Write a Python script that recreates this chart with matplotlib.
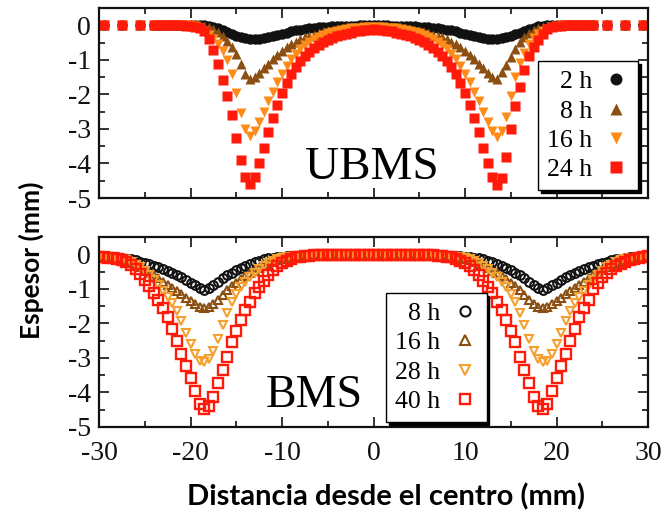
import matplotlib
matplotlib.use("Agg")
import matplotlib.pyplot as plt
from matplotlib.ticker import MultipleLocator
from matplotlib.font_manager import FontProperties

plt.rcParams['font.family'] = ['Liberation Serif', 'DejaVu Serif']
plt.rcParams['axes.unicode_minus'] = False

# ---------------- UBMS (top panel) ----------------
x_ubms = [-29.5, -27.5, -25.5,
          -24.0, -23.5, -23.0, -22.5, -22.0, -21.5, -21.0, -20.5, -20.0, -19.5,
          -19.0, -18.5, -18.0, -17.5, -17.0, -16.5, -16.0, -15.5, -15.0, -14.5,
          -14.0, -13.5, -13.0, -12.5, -12.0, -11.5, -11.0, -10.5, -10.0, -9.5,
          -9.0, -8.5, -8.0, -7.5, -7.0, -6.5, -6.0, -5.5, -5.0, -4.5,
          -4.0, -3.5, -3.0, -2.5, -2.0, -1.5, -1.0, -0.5, 0.0,
          0.5, 1.0, 1.5, 2.0, 2.5, 3.0, 3.5, 4.0, 4.5, 5.0,
          5.5, 6.0, 6.5, 7.0, 7.5, 8.0, 8.5, 9.0, 9.5, 10.0,
          10.5, 11.0, 11.5, 12.0, 12.5, 13.0, 13.5, 14.0, 14.5, 15.0,
          15.5, 16.0, 16.5, 17.0, 17.5, 18.0, 18.5, 19.0, 19.5, 20.0,
          20.5, 21.0, 21.5, 22.0, 22.5, 23.0, 23.5, 24.0,
          25.5, 27.5, 29.5]

ubms_2h = [0, 0, 0,
           0, 0, 0, 0, 0, 0, 0, 0, 0, 0,
           0, 0.00, -0.02, -0.05, -0.09, -0.14, -0.19, -0.25, -0.30, -0.35,
           -0.38, -0.40, -0.41, -0.40, -0.38, -0.35, -0.32, -0.28, -0.24, -0.21,
           -0.18, -0.15, -0.13, -0.11, -0.09, -0.07, -0.06, -0.05, -0.04, -0.03,
           -0.02, -0.02, -0.01, -0.01, -0.01, 0.00, 0.00, 0.00, 0.00,
           0.00, 0.00, 0.00, -0.01, -0.01, -0.01, -0.02, -0.02, -0.03, -0.04,
           -0.05, -0.06, -0.07, -0.09, -0.11, -0.13, -0.15, -0.18, -0.21, -0.24,
           -0.28, -0.32, -0.35, -0.38, -0.40, -0.41, -0.40, -0.38, -0.35, -0.31,
           -0.26, -0.21, -0.16, -0.11, -0.07, -0.03, -0.01, 0, 0, 0,
           0, 0, 0, 0, 0, 0, 0, 0,
           0, 0, 0]

ubms_8h = [0, 0, 0,
           0, 0, 0, 0, 0, 0, 0, 0, 0, 0,
           0.00, -0.02, -0.06, -0.12, -0.20, -0.30, -0.45, -0.62, -0.82, -1.12,
           -1.40, -1.55, -1.50, -1.38, -1.25, -1.12, -0.98, -0.86, -0.75, -0.64,
           -0.55, -0.47, -0.41, -0.35, -0.31, -0.27, -0.23, -0.20, -0.18, -0.16,
           -0.14, -0.12, -0.10, -0.09, -0.08, -0.07, -0.06, -0.05, -0.05,
           -0.05, -0.06, -0.07, -0.08, -0.09, -0.10, -0.12, -0.14, -0.16, -0.18,
           -0.20, -0.23, -0.27, -0.31, -0.35, -0.41, -0.47, -0.55, -0.64, -0.75,
           -0.86, -0.98, -1.12, -1.25, -1.38, -1.50, -1.55, -1.35, -1.15, -0.92,
           -0.68, -0.48, -0.33, -0.22, -0.14, -0.08, -0.04, -0.01, 0, 0,
           0, 0, 0, 0, 0, 0, 0, 0,
           0, 0, 0]

ubms_16h = [0, 0, 0,
            0, 0, 0, 0, 0, 0, 0, 0, 0.00, -0.03,
            -0.08, -0.16, -0.27, -0.40, -0.55, -0.75, -1.00, -1.40, -1.95, -2.55,
            -3.00, -3.20, -3.05, -2.80, -2.50, -2.20, -1.92, -1.65, -1.40, -1.18,
            -0.98, -0.82, -0.68, -0.57, -0.47, -0.39, -0.33, -0.27, -0.23, -0.19,
            -0.16, -0.13, -0.11, -0.09, -0.08, -0.07, -0.06, -0.05, -0.05,
            -0.05, -0.06, -0.07, -0.08, -0.09, -0.11, -0.13, -0.16, -0.19, -0.23,
            -0.27, -0.33, -0.39, -0.47, -0.57, -0.68, -0.82, -0.98, -1.18, -1.40,
            -1.65, -1.92, -2.20, -2.50, -2.80, -3.05, -3.22, -3.05, -2.65, -2.05,
            -1.50, -1.10, -0.80, -0.55, -0.38, -0.26, -0.17, -0.11, -0.06, -0.03,
            0, 0, 0, 0, 0, 0, 0, 0,
            0, 0, 0]

ubms_24h = [0, 0, 0,
            0, 0, 0, 0, 0, 0, 0, -0.01, -0.02, -0.04,
            -0.08, -0.18, -0.40, -0.72, -1.12, -1.58, -2.05, -2.60, -3.25, -3.90,
            -4.40, -4.60, -4.38, -4.00, -3.55, -3.08, -2.68, -2.30, -1.95, -1.68,
            -1.42, -1.20, -1.02, -0.88, -0.76, -0.65, -0.56, -0.48, -0.42, -0.37,
            -0.32, -0.28, -0.24, -0.21, -0.18, -0.16, -0.14, -0.13, -0.12,
            -0.13, -0.14, -0.16, -0.18, -0.21, -0.24, -0.28, -0.32, -0.37, -0.42,
            -0.48, -0.56, -0.65, -0.76, -0.88, -1.02, -1.20, -1.42, -1.68, -1.95,
            -2.30, -2.68, -3.08, -3.55, -4.00, -4.38, -4.62, -4.42, -3.80, -3.00,
            -2.35, -1.80, -1.30, -0.90, -0.62, -0.42, -0.25, -0.12, -0.06, -0.03,
            -0.01, 0, 0, 0, 0, 0, 0, 0,
            0, 0, 0]

ubms_labels = ["2 h", "8 h", "16 h", "24 h"]

# ---------------- BMS (bottom panel) ----------------
x_bms = [-30.0, -29.5, -29.0, -28.5, -28.0, -27.5, -27.0, -26.5, -26.0, -25.5,
         -25.0, -24.5, -24.0, -23.5, -23.0, -22.5, -22.0, -21.5, -21.0, -20.5,
         -20.0, -19.5, -19.0, -18.5, -18.0, -17.5, -17.0, -16.5, -16.0, -15.5,
         -15.0, -14.5, -14.0, -13.5, -13.0, -12.5, -12.0, -11.5, -11.0, -10.5,
         -10.0, -9.5, -9.0, -8.5, -8.0, -7.5, -7.0, -6.5, -6.0, -5.5,
         -5.0, -4.5, -4.0, -3.5, -3.0, -2.5, -2.0, -1.5, -1.0, -0.5,
         0.0,
         0.5, 1.0, 1.5, 2.0, 2.5, 3.0, 3.5, 4.0, 4.5, 5.0,
         5.5, 6.0, 6.5, 7.0, 7.5, 8.0, 8.5, 9.0, 9.5, 10.0,
         10.5, 11.0, 11.5, 12.0, 12.5, 13.0, 13.5, 14.0, 14.5, 15.0,
         15.5, 16.0, 16.5, 17.0, 17.5, 18.0, 18.5, 19.0, 19.5, 20.0,
         20.5, 21.0, 21.5, 22.0, 22.5, 23.0, 23.5, 24.0, 24.5, 25.0,
         25.5, 26.0, 26.5, 27.0, 27.5, 28.0, 28.5, 29.0, 29.5, 30.0]

bms_8h = [-0.05, -0.06, -0.07, -0.08, -0.09, -0.11, -0.13, -0.15, -0.18, -0.21,
          -0.25, -0.29, -0.33, -0.38, -0.43, -0.48, -0.54, -0.60, -0.67, -0.74,
          -0.82, -0.90, -0.97, -1.02, -0.98, -0.90, -0.80, -0.70, -0.61, -0.53,
          -0.46, -0.39, -0.33, -0.28, -0.23, -0.19, -0.15, -0.12, -0.10, -0.08,
          -0.07, -0.06, -0.05, -0.05, -0.04, -0.04, -0.03, -0.03, -0.03, -0.03,
          -0.03, -0.02, -0.02, -0.02, -0.02, -0.02, -0.02, -0.02, -0.02, -0.02,
          -0.02,
          -0.02, -0.02, -0.02, -0.02, -0.02, -0.02, -0.02, -0.02, -0.02, -0.03,
          -0.03, -0.03, -0.03, -0.03, -0.04, -0.04, -0.05, -0.05, -0.06, -0.07,
          -0.08, -0.10, -0.12, -0.15, -0.19, -0.23, -0.28, -0.33, -0.39, -0.46,
          -0.53, -0.61, -0.70, -0.80, -0.90, -0.98, -1.02, -0.97, -0.90, -0.82,
          -0.74, -0.67, -0.60, -0.54, -0.48, -0.43, -0.38, -0.33, -0.29, -0.25,
          -0.21, -0.18, -0.15, -0.13, -0.11, -0.09, -0.08, -0.07, -0.06, -0.05]

bms_16h = [-0.06, -0.07, -0.08, -0.10, -0.13, -0.17, -0.21, -0.26, -0.31, -0.38,
           -0.45, -0.53, -0.61, -0.70, -0.79, -0.88, -0.97, -1.06, -1.16, -1.26,
           -1.36, -1.45, -1.53, -1.56, -1.52, -1.43, -1.32, -1.18, -1.04, -0.92,
           -0.82, -0.72, -0.63, -0.55, -0.48, -0.40, -0.33, -0.27, -0.22, -0.17,
           -0.13, -0.10, -0.08, -0.06, -0.05, -0.04, -0.04, -0.03, -0.03, -0.03,
           -0.03, -0.02, -0.02, -0.02, -0.02, -0.02, -0.02, -0.02, -0.02, -0.02,
           -0.02,
           -0.02, -0.02, -0.02, -0.02, -0.02, -0.02, -0.02, -0.02, -0.02, -0.03,
           -0.03, -0.03, -0.03, -0.04, -0.04, -0.05, -0.06, -0.08, -0.10, -0.13,
           -0.17, -0.22, -0.27, -0.33, -0.40, -0.48, -0.55, -0.63, -0.72, -0.82,
           -0.92, -1.04, -1.18, -1.32, -1.43, -1.52, -1.56, -1.53, -1.45, -1.36,
           -1.26, -1.16, -1.06, -0.97, -0.88, -0.79, -0.70, -0.61, -0.53, -0.45,
           -0.38, -0.31, -0.26, -0.21, -0.17, -0.13, -0.10, -0.08, -0.07, -0.06]

bms_28h = [-0.07, -0.08, -0.09, -0.10, -0.12, -0.15, -0.18, -0.23, -0.30, -0.38,
           -0.48, -0.60, -0.74, -0.90, -1.06, -1.23, -1.42, -1.64, -1.92, -2.28,
           -2.60, -2.90, -3.08, -3.12, -3.04, -2.80, -2.45, -2.05, -1.70, -1.38,
           -1.15, -0.96, -0.80, -0.66, -0.53, -0.42, -0.33, -0.25, -0.19, -0.14,
           -0.11, -0.09, -0.07, -0.06, -0.05, -0.04, -0.04, -0.03, -0.03, -0.03,
           -0.03, -0.02, -0.02, -0.02, -0.02, -0.02, -0.02, -0.02, -0.02, -0.02,
           -0.02,
           -0.02, -0.02, -0.02, -0.02, -0.02, -0.02, -0.02, -0.02, -0.02, -0.03,
           -0.03, -0.03, -0.03, -0.04, -0.04, -0.05, -0.06, -0.07, -0.09, -0.11,
           -0.14, -0.19, -0.25, -0.33, -0.42, -0.53, -0.66, -0.80, -0.96, -1.15,
           -1.38, -1.70, -2.05, -2.45, -2.80, -3.04, -3.12, -3.08, -2.90, -2.60,
           -2.28, -1.92, -1.64, -1.42, -1.23, -1.06, -0.90, -0.74, -0.60, -0.48,
           -0.38, -0.30, -0.23, -0.18, -0.15, -0.12, -0.10, -0.09, -0.08, -0.07]

bms_40h = [-0.07, -0.08, -0.10, -0.12, -0.14, -0.18, -0.22, -0.30, -0.42, -0.58,
           -0.75, -0.92, -1.12, -1.33, -1.55, -1.82, -2.15, -2.52, -2.88, -3.22,
           -3.58, -3.95, -4.32, -4.48, -4.38, -4.12, -3.72, -3.36, -2.98, -2.55,
           -2.22, -1.91, -1.62, -1.37, -1.13, -0.95, -0.78, -0.60, -0.45, -0.33,
           -0.25, -0.19, -0.13, -0.09, -0.07, -0.05, -0.04, -0.03, -0.03, -0.03,
           -0.03, -0.03, -0.02, -0.02, -0.02, -0.02, -0.02, -0.02, -0.02, -0.02,
           -0.02,
           -0.02, -0.02, -0.02, -0.02, -0.02, -0.02, -0.02, -0.02, -0.03, -0.03,
           -0.03, -0.03, -0.03, -0.04, -0.05, -0.07, -0.09, -0.13, -0.19, -0.25,
           -0.33, -0.45, -0.60, -0.78, -0.95, -1.13, -1.37, -1.62, -1.91, -2.22,
           -2.55, -2.98, -3.36, -3.72, -4.12, -4.38, -4.48, -4.32, -3.95, -3.58,
           -3.22, -2.88, -2.52, -2.15, -1.82, -1.55, -1.33, -1.00, -0.82, -0.66,
           -0.54, -0.44, -0.35, -0.28, -0.22, -0.18, -0.14, -0.11, -0.08, -0.06]

bms_labels = ["8 h", "16 h", "28 h", "40 h"]

# ---------------- styling ----------------
c_black = "#111111"
c_brown = "#8B4F12"
c_orange = "#FF8C1A"
c_orange2 = "#F5A030"
c_red = "#FF1A0A"

W, H = 662, 518
fig = plt.figure(figsize=(W / 100, H / 100), dpi=100)
ax1 = fig.add_axes([99 / W, 1 - 198 / H, 549 / W, 190 / H])
ax2 = fig.add_axes([99 / W, 1 - 427 / H, 549 / W, 190 / H])

ms_f = 7.5
ax1.plot(x_ubms, ubms_2h, ls='none', marker='o', ms=ms_f, mec='none', color=c_black, label=ubms_labels[0])
ax1.plot(x_ubms, ubms_8h, ls='none', marker='^', ms=ms_f, mec='none', color=c_brown, label=ubms_labels[1])
ax1.plot(x_ubms, ubms_16h, ls='none', marker='v', ms=ms_f, mec='none', color=c_orange, label=ubms_labels[2])
ax1.plot(x_ubms, ubms_24h, ls='none', marker='s', ms=ms_f, mec='none', color=c_red, label=ubms_labels[3])

ms_o = 6.3
mew = 1.5
ax2.plot(x_bms, bms_8h, ls='none', marker='o', ms=ms_o, mfc='none', mew=mew, mec=c_black, label=bms_labels[0])
ax2.plot(x_bms, bms_16h, ls='none', marker='^', ms=ms_o, mfc='none', mew=mew, mec=c_brown, label=bms_labels[1])
ax2.plot(x_bms, bms_28h, ls='none', marker='v', ms=ms_o, mfc='none', mew=mew, mec=c_orange2, label=bms_labels[2])
ax2.plot(x_bms, bms_40h, ls='none', marker='s', ms=6.8, mfc='none', mew=1.7, mec=c_red, label=bms_labels[3])

for ax in (ax1, ax2):
    ax.set_xlim(-30, 30)
    ax.set_ylim(-5, 0.5)
    ax.xaxis.set_major_locator(MultipleLocator(10))
    ax.xaxis.set_minor_locator(MultipleLocator(5))
    ax.yaxis.set_major_locator(MultipleLocator(1))
    ax.yaxis.set_minor_locator(MultipleLocator(0.5))
    ax.tick_params(which='both', direction='in', top=True, right=True, width=1.2, colors='#111111')
    ax.tick_params(which='major', length=7, labelsize=20, pad=6)
    ax.tick_params(which='minor', length=4)
    for sp in ax.spines.values():
        sp.set_linewidth(1.6)
        sp.set_color('#111111')
ax1.tick_params(axis='x', labelbottom=False)
ax2.tick_params(axis='x', pad=10)

serif_leg = FontProperties(family='Liberation Serif', size=18.5)
leg_kw = dict(markerfirst=False, frameon=True, fancybox=False,
              shadow={'color': 'black', 'alpha': 1}, edgecolor='black', framealpha=1,
              prop=serif_leg, handletextpad=0.45, labelspacing=0.25, borderpad=0.35,
              handlelength=1.0, borderaxespad=0, markerscale=1.15)
leg1 = ax1.legend(loc='lower right', bbox_to_anchor=(0.982, 0.04), **leg_kw)
leg1.get_frame().set_linewidth(1.0)
leg2 = ax2.legend(loc='lower right', bbox_to_anchor=(0.706, 0.025), **leg_kw)
leg2.get_frame().set_linewidth(1.0)

ax1.text(-7.5, -4.45, "UBMS", fontsize=34, family='Liberation Serif', ha='left', va='baseline')
ax2.text(-11.8, -4.42, "BMS", fontsize=33, family='Liberation Serif', ha='left', va='baseline')

fig.text(31 / W, 1 - 260 / H, "Espesor (mm)", rotation=90, ha='center', va='center',
         fontsize=19, family='Lato', fontweight='bold')
fig.text(386 / W, 1 - 497 / H, "Distancia desde el centro (mm)", ha='center', va='center',
         fontsize=21, family='Lato', fontweight='bold')

fig.savefig("out.png", dpi=100)
